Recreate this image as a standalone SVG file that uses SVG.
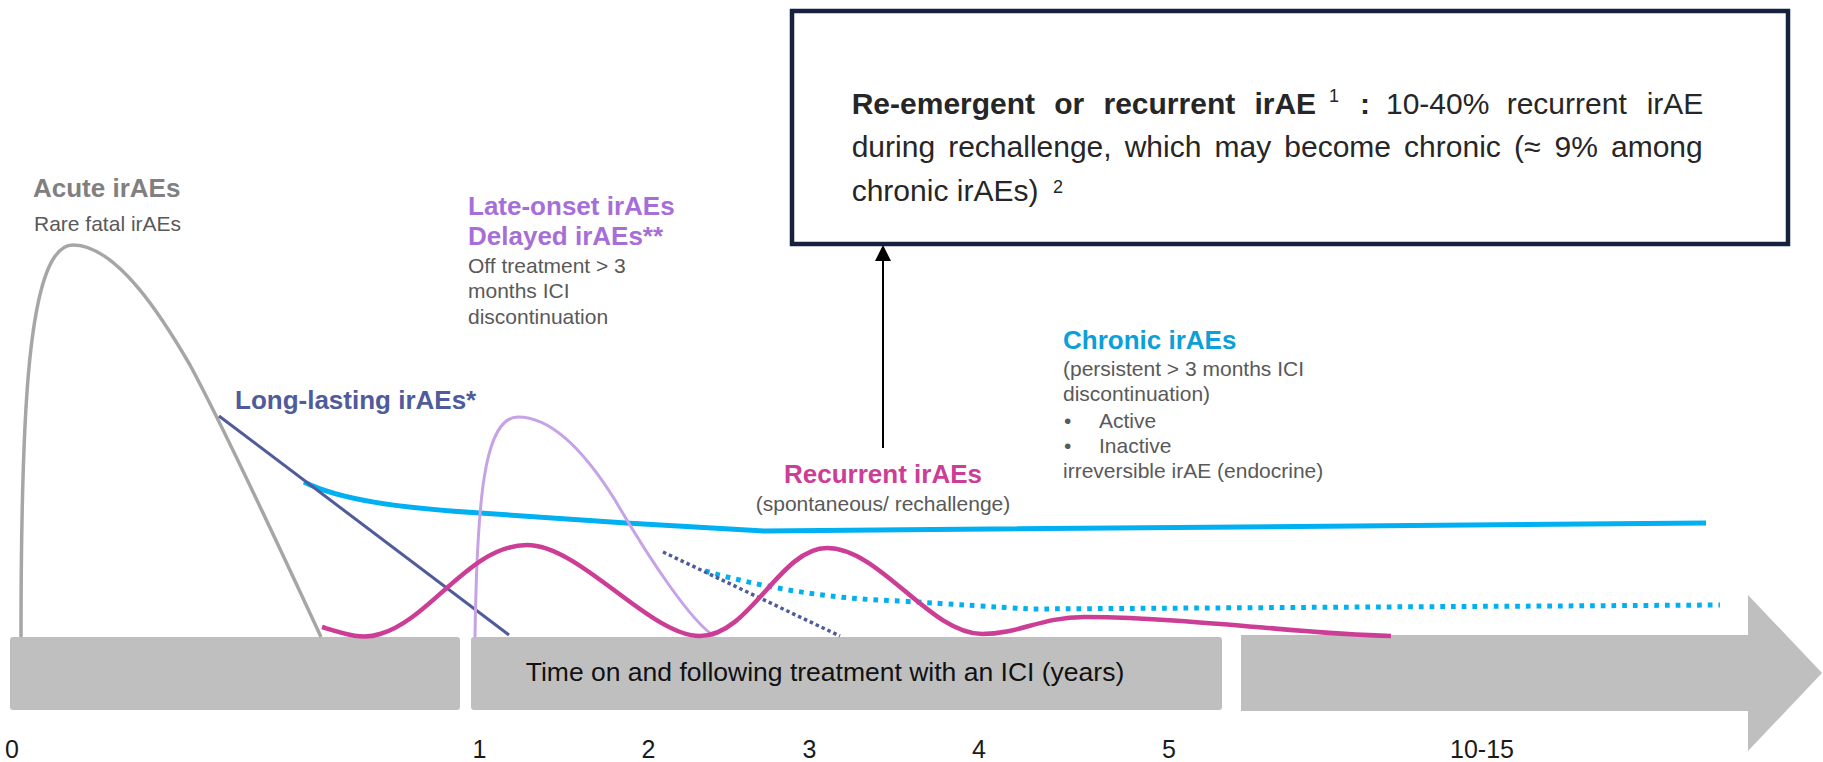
<svg xmlns="http://www.w3.org/2000/svg" width="1823" height="762" viewBox="0 0 1823 762">
  <style>
    text { font-family: "Liberation Sans", Arial, sans-serif; }
    .head { font-size: 26px; font-weight: bold; }
    .note { font-size: 21px; fill: #595959; }
    .tick { font-size: 25px; fill: #1a1a1a; text-anchor: middle; }
    .box-txt { font-size: 30px; fill: #262626; }
    .sup { font-size: 18px; fill: #262626; }
    .curve { fill: none; stroke-linecap: butt; stroke-linejoin: round; }
    .bar { fill: #bfbfbf; }
  </style>

  <!-- time axis: two bars and the arrow -->
  <g id="axis">
    <rect class="bar" x="10" y="637" width="450" height="73" rx="3"/>
    <rect class="bar" x="471" y="637" width="751" height="73" rx="3"/>
    <polygon class="bar" points="1241,635 1748,635 1748,595 1822,673 1748,751 1748,711 1241,711"/>
    <text x="825" y="681" font-size="26.5" fill="#111" text-anchor="middle">Time on and following treatment with an ICI (years)</text>
    <text class="tick" x="12" y="758" text-anchor="start">0</text>
    <text class="tick" x="479.5" y="758">1</text>
    <text class="tick" x="648.5" y="758">2</text>
    <text class="tick" x="809.5" y="758">3</text>
    <text class="tick" x="979" y="758">4</text>
    <text class="tick" x="1169" y="758">5</text>
    <text class="tick" x="1482" y="758">10-15</text>
  </g>

  <!-- acute irAEs -->
  <g id="acute">
    <path class="curve" stroke="#a6a6a6" stroke-width="3.5" d="M21,637 C21,420 27,245 73,245 C118,245 165,322 190,365 C225,430 290,570 321,637"/>
    <text class="head" x="33" y="197" fill="#808080">Acute irAEs</text>
    <text class="note" x="34" y="231">Rare fatal irAEs</text>
  </g>

  <!-- chronic irAEs -->
  <g id="chronic">
    <path class="curve" stroke="#00b0f0" stroke-width="5" d="M304,482 C340,500 400,508 480,513 L626,523 L764,531 L1706,523"/>
    <path class="curve" stroke="#00b0f0" stroke-width="5" stroke-dasharray="4.7 6" d="M705,571 Q800,598 900,601 Q980,606 1030,609 L1720,605"/>
    <text class="head" x="1063" y="349" fill="#0d9fd8">Chronic irAEs</text>
    <text class="note">
      <tspan x="1063" y="376">(persistent &gt; 3 months ICI</tspan>
      <tspan x="1063" y="401">discontinuation)</tspan>
      <tspan x="1064" y="428">•</tspan><tspan x="1099" y="428">Active</tspan>
      <tspan x="1064" y="453">•</tspan><tspan x="1099" y="453">Inactive</tspan>
      <tspan x="1063" y="478">irreversible irAE (endocrine)</tspan>
    </text>
  </g>

  <!-- long-lasting irAEs -->
  <g id="long-lasting">
    <line x1="219" y1="416" x2="509" y2="635" stroke="#4f5b9b" stroke-width="3"/>
    <line x1="663" y1="552" x2="840" y2="636" stroke="#4f5b9b" stroke-width="3.5" stroke-dasharray="3.5 3"/>
    <text class="head" x="235" y="409" fill="#4f5b9b">Long-lasting irAEs*</text>
  </g>

  <!-- late-onset / delayed irAEs -->
  <g id="late-onset">
    <path class="curve" stroke="#c5a3e6" stroke-width="3" d="M475,637 C477,500 484,417 518,417 C555,417 590,460 615,500 C650,560 690,620 714,636"/>
    <text class="head" fill="#a66fd7">
      <tspan x="468" y="215">Late-onset irAEs</tspan>
      <tspan x="468" y="245">Delayed irAEs**</tspan>
    </text>
    <text class="note">
      <tspan x="468" y="273">Off treatment &gt; 3</tspan>
      <tspan x="468" y="298">months ICI</tspan>
      <tspan x="468" y="324">discontinuation</tspan>
    </text>
  </g>

  <!-- recurrent irAEs -->
  <g id="recurrent">
    <path class="curve" stroke="#cc3d95" stroke-width="4.5" d="M322,627 C345,634 362,640 380,634 C430,620 470,545 527,545 C580,545 650,636 700,636 C750,636 780,548 827,548 C880,548 930,634 982,634 C1020,634 1040,617 1085,617 C1200,618 1300,634 1391,636"/>
    <text class="head" x="883" y="483" fill="#cc3d95" text-anchor="middle">Recurrent irAEs</text>
    <text class="note" x="883" y="511" text-anchor="middle">(spontaneous/ rechallenge)</text>
  </g>

  <!-- re-emergent / recurrent note box -->
  <g id="re-emergent">
    <rect x="792" y="11" width="996" height="233" fill="#fff" stroke="#16213f" stroke-width="4.5"/>
    <text class="box-txt" y="113.5">
      <tspan x="851.7" font-weight="bold">Re-emergent</tspan>
      <tspan x="1054.3" font-weight="bold">or</tspan>
      <tspan x="1103.5" font-weight="bold">recurrent</tspan>
      <tspan x="1254.4" font-weight="bold">irAE</tspan>
      <tspan x="1360" font-weight="bold">:</tspan>
      <tspan x="1386">10-40%</tspan>
      <tspan x="1506.7">recurrent</tspan>
      <tspan x="1646.7">irAE</tspan>
    </text>
    <text class="sup" x="1329" y="102">1</text>
    <text class="box-txt" y="157">
      <tspan x="851.7">during</tspan>
      <tspan x="948.2">rechallenge,</tspan>
      <tspan x="1124.7">which</tspan>
      <tspan x="1214.5">may</tspan>
      <tspan x="1284.3">become</tspan>
      <tspan x="1404.1">chronic</tspan>
      <tspan x="1513.9">(≈</tspan>
      <tspan x="1554.5">9%</tspan>
      <tspan x="1611">among</tspan>
    </text>
    <text class="box-txt" x="851.7" y="200.5">chronic irAEs)</text>
    <text class="sup" x="1053" y="193">2</text>
  </g>

  <!-- connector from the recurrent label up to the note box -->
  <g id="connectors">
    <line x1="883" y1="448" x2="883" y2="258" stroke="#000" stroke-width="2"/>
    <polygon points="883,245 875,261 891,261" fill="#000"/>
  </g>
</svg>
